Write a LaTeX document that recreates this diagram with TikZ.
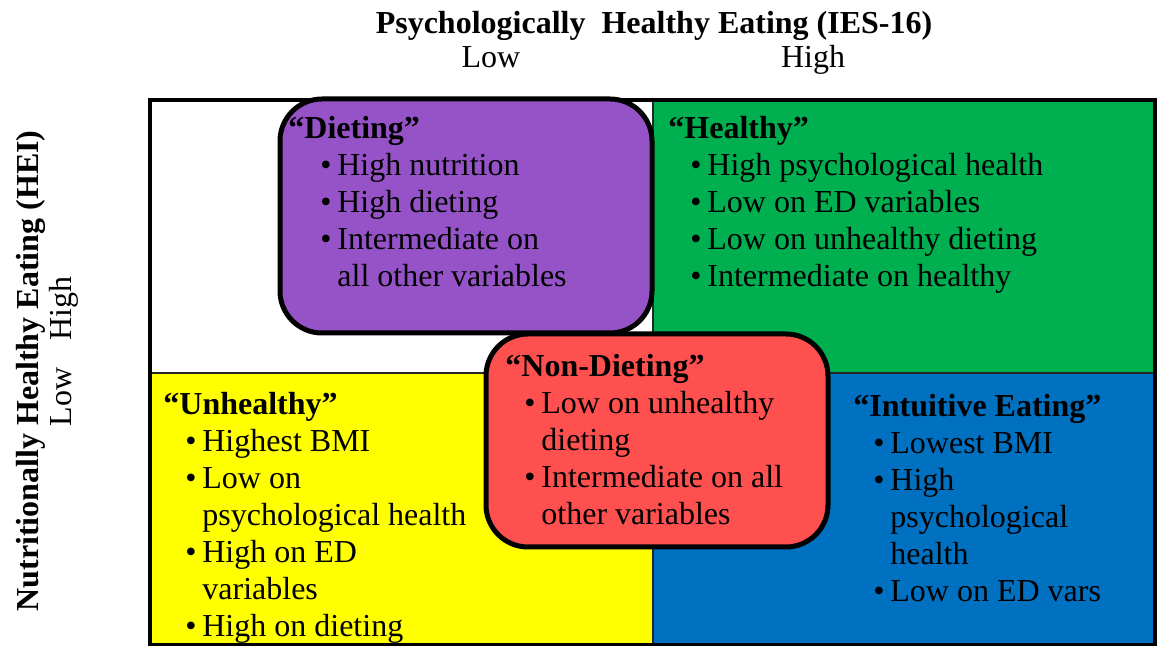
\documentclass[tikz,border=0pt]{standalone}
\usepackage{fontspec}
\setmainfont{Liberation Serif}
\definecolor{dietpurple}{RGB}{150,83,200}
\definecolor{healthgreen}{RGB}{0,176,80}
\definecolor{unhyellow}{RGB}{255,255,0}
\definecolor{intblue}{RGB}{0,112,192}
\definecolor{nondietred}{RGB}{255,80,80}
\tikzset{
quadtext/.style={
	anchor=base west, inner sep=0pt,
	font=\fontsize{16}{18.5}\selectfont},
axistext/.style={
	inner sep=0pt, anchor=base,
	font=\fontsize{16}{18.5}\selectfont},
roundbox/.style={
	draw=black, line width=2.5pt, rounded corners=21pt}
}
\newcommand{\bul}[1][11pt]{\hspace*{#1}\makebox[8.5pt][l]{•}}
\newcommand{\ind}[1][19.5pt]{\hspace*{#1}}
\newcommand{\grp}[1]{\begin{tabular}[t]{@{}l@{}}#1\end{tabular}}

\begin{document}
\begin{tikzpicture}[x=0.5pt, y=-0.5pt]
	\useasboundingbox (0,0) rectangle (1158,646);
	% quadrants
	\fill[white] (150,100) rectangle (653,373);
	\fill[healthgreen] (653,100) rectangle (1155,373);
	\fill[unhyellow] (150,373) rectangle (653,646);
	\fill[intblue] (653,373) rectangle (1155,646);
	\draw[line width=1pt, black!85] (653,100) -- (653,646) (150,373) -- (1155,373);
	\draw[line width=2pt] (150,100) rectangle (1155,645);
	% overlapping groups
	\draw[roundbox, fill=dietpurple] (280,99) rectangle (652,333);
	\draw[roundbox, fill=nondietred] (486,334) rectangle (828,547);
	% axes
	\node[axistext, font=\fontsize{16}{18.5}\selectfont\bfseries] (xtitle) at (654,34)
		{Psychologically\ \ Healthy Eating (IES-16)};
	\node[axistext] (xlow) at (491,68) {Low};
	\node[axistext] (xhigh) at (813,68) {High};
	\node[axistext, rotate=90, font=\fontsize{16}{18.5}\selectfont\bfseries] (ytitle) at (39,371)
		{Nutritionally Healthy Eating (HEI)};
	\node[axistext, rotate=90] (ylow) at (71,397) {Low};
	\node[axistext, rotate=90] (yhigh) at (71,309) {High};
	% group texts
	\node[quadtext] (dieting) at (288,139) {\grp{\textbf{“Dieting”}\\
		\bul[16pt]High nutrition\\
		\bul[16pt]High dieting\\
		\bul[16pt]Intermediate on\\
		\ind[24.5pt]all other variables}};
	\node[quadtext] (healthy) at (668,139) {\grp{\textbf{“Healthy”}\\
		\bul High psychological health\\
		\bul Low on ED variables\\
		\bul Low on unhealthy dieting\\
		\bul Intermediate on healthy}};
	\node[quadtext] (nondieting) at (505,377) {\grp{\textbf{“Non-Dieting”}\\
		\bul[9.5pt]Low on unhealthy\\
		\ind[18pt]dieting\\
		\bul[9.5pt]Intermediate on all\\
		\ind[18pt]other variables}};
	\node[quadtext] (unhealthy) at (163,415) {\grp{\textbf{“Unhealthy”}\\
		\bul Highest BMI\\
		\bul Low on\\
		\ind psychological health\\
		\bul High on ED\\
		\ind variables\\
		\bul High on dieting}};
	\node[quadtext] (intuitive) at (853,417) {\grp{\textbf{“Intuitive Eating”}\\
		\bul[10pt]Lowest BMI\\
		\bul[10pt]High\\
		\ind[18.5pt]psychological\\
		\ind[18.5pt]health\\
		\bul[10pt]Low on ED vars}};
\end{tikzpicture}
\end{document}
